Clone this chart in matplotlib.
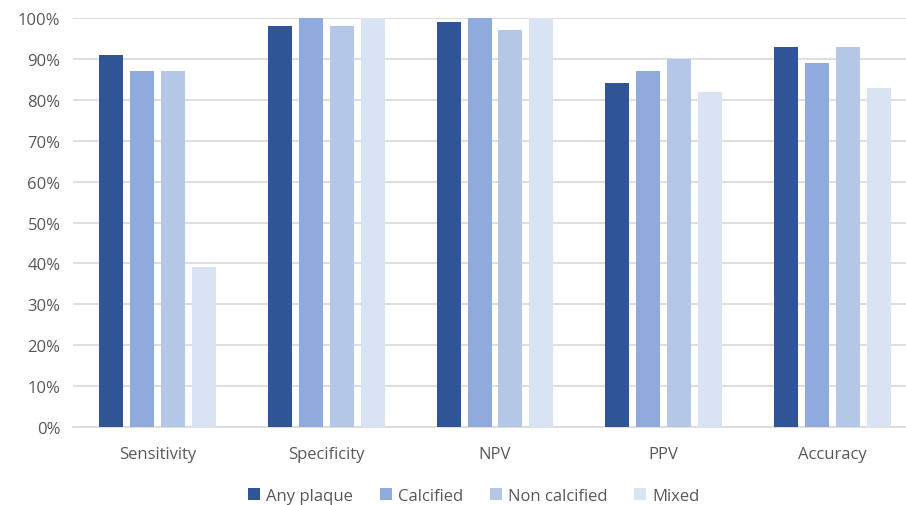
import numpy as np
import matplotlib
matplotlib.use("Agg")
import matplotlib.pyplot as plt
from matplotlib.ticker import PercentFormatter

plt.rcParams['font.family'] = ['Open Sans', 'DejaVu Sans']

metrics = ["Sensitivity", "Specificity", "NPV", "PPV", "Accuracy"]
series = ["Any plaque", "Calcified", "Non calcified", "Mixed"]
any_plaque = [91, 98, 99, 84, 93]
calcified = [87, 100, 100, 87, 89]
non_calcified = [87, 98, 97, 90, 93]
mixed = [39, 100, 100, 82, 83]
colors = ["#2F5597", "#8FAADC", "#B4C7E7", "#DAE3F3"]

W, H = 906, 506
fig = plt.figure(figsize=(W/100, H/100), dpi=100)
ax = fig.add_axes([73/W, (H-428)/H, (W-73)/W, (428-19)/H])

x = np.arange(len(metrics))
pitch = 0.183
width = 0.142
for i, (vals, name) in enumerate(zip([any_plaque, calcified, non_calcified, mixed], series)):
    ax.bar(x + (i-1.5)*pitch, np.array(vals)/100, width, color=colors[i], label=name, zorder=3)

ax.set_ylim(0, 1)
ax.set_xlim(-0.5, 4.5 - 11/169)
ax.set_yticks(np.arange(0, 1.01, 0.1))
ax.yaxis.set_major_formatter(PercentFormatter(1.0, decimals=0))
ax.set_xticks(x)
ax.set_xticklabels(metrics)
ax.grid(axis='y', color='#D9D9D9', lw=1.2, zorder=0)
for s in ['top', 'right', 'left']:
    ax.spines[s].set_visible(False)
ax.spines['bottom'].set_color('#D9D9D9')
ax.spines['bottom'].set_linewidth(1.2)
ax.tick_params(length=0, labelsize=12, colors='#595959')
ax.tick_params(axis='x', pad=14)
ax.tick_params(axis='y', pad=9)

fig.legend(loc='center', bbox_to_anchor=(474/W, 1-497/H), ncol=4, frameon=False,
           fontsize=12, labelcolor='#595959', handlelength=0.7, handleheight=0.7,
           handletextpad=0.4, columnspacing=1.6)

fig.savefig("out.png", dpi=100)
